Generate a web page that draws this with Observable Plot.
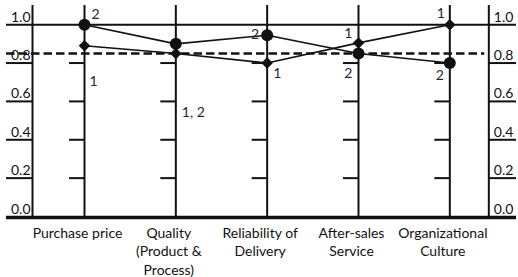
<!DOCTYPE html>
<html>
<head>
<meta charset="utf-8">
<script src="https://cdn.jsdelivr.net/npm/d3@7"></script>
<script src="https://cdn.jsdelivr.net/npm/@observablehq/plot@0.6"></script>
<style>
  html, body { margin: 0; padding: 0; background: #fff; }
  svg { display: block; }
</style>
</head>
<body>
<div id="chart"></div>
<script>
// ---- data ----
const categories = ["Purchase price", "Quality\n(Product &\nProcess)", "Reliability of\nDelivery", "After-sales\nService", "Organizational\nCulture"];
const series1 = [0.89, 0.85, 0.80, 0.905, 1.0];   // diamonds
const series2 = [1.0, 0.90, 0.945, 0.85, 0.80];   // circles
const threshold = 0.85;
const yTicks = [0, 0.2, 0.4, 0.6, 0.8, 1.0];
const yTickLabels = ["0.0", "0.2", "0.4", "0.6", "0.8", "1.0"];
const annotations = [
  {i: 0, series: 2, text: "2"},
  {i: 0, series: 1, text: "1"},
  {i: 1, series: 1, text: "1, 2"},
  {i: 2, series: 2, text: "2"},
  {i: 2, series: 1, text: "1"},
  {i: 3, series: 1, text: "1"},
  {i: 3, series: 2, text: "2"},
  {i: 4, series: 1, text: "1"},
  {i: 4, series: 2, text: "2"}
];
// label placement (styles), same order as annotations
const annoStyle = [
  {dx: 7, dy: -10, anchor: "start"},
  {dx: 5, dy: 36, anchor: "start"},
  {dx: 6, dy: 59, anchor: "start"},
  {dx: -8, dy: -1, anchor: "end"},
  {dx: 6, dy: 10, anchor: "start"},
  {dx: -6, dy: -9, anchor: "end"},
  {dx: -6, dy: 20, anchor: "end"},
  {dx: -5, dy: -11, anchor: "end"},
  {dx: -6, dy: 12, anchor: "end"}
];

// ---- layout ----
const W = 518, H = 277;
const mL = 6, mR = 2;
const ppu = 91.33;                 // pixels per category step
const xmin = -(84 - mL) / ppu;
const xmax = xmin + (W - mL - mR) / ppu;
const leftAxisX = xmin + 26 / ppu;
const rightAxisX = (categories.length - 1) + 39 / ppu;
const catTick = 15 / ppu;
const rightTickEnd = xmax;

const idx = categories.map((c, i) => i);
const s1 = idx.map(i => ({i, v: series1[i]}));
const s2 = idx.map(i => ({i, v: series2[i]}));
const catTicks = idx.flatMap(i => yTicks.filter(t => t > 0 && t < 1).map(t => ({i, t})));
const sideTicks = yTicks.filter(t => t > 0 && t < 1);
const annoData = annotations.map((a, k) => ({...a, v: (a.series === 1 ? series1 : series2)[a.i], ...annoStyle[k]}));

const ink = "#111";
const numColor = "#1c2745";
const font = "Lato, 'Open Sans', sans-serif";

const chart = Plot.plot({
  width: W, height: H,
  marginLeft: mL, marginRight: mR, marginTop: 5, marginBottom: 61,
  x: {domain: [xmin, xmax], axis: null},
  y: {domain: [0, 1.1], axis: null},
  style: {fontFamily: font, background: "white", overflow: "visible"},
  marks: [
    // category vertical axes
    Plot.ruleX(idx, {x: d => d, stroke: ink, strokeWidth: 2}),
    // left & right axes
    Plot.ruleX([leftAxisX, rightAxisX], {stroke: ink, strokeWidth: 2}),
    // category ticks
    Plot.ruleY(catTicks, {y: "t", x1: d => d.i - catTick, x2: d => d.i, stroke: ink, strokeWidth: 2}),
    // side ticks
    Plot.ruleY(sideTicks, {y: d => d, x1: xmin, x2: leftAxisX, stroke: ink, strokeWidth: 2}),
    Plot.ruleY(sideTicks, {y: d => d, x1: rightAxisX, x2: rightTickEnd, stroke: ink, strokeWidth: 2}),
    // 1.0 line and baseline
    Plot.ruleY([1], {stroke: ink, strokeWidth: 2}),
    Plot.ruleY([0], {stroke: ink, strokeWidth: 3.5, dy: 1}),
    // threshold dashed
    Plot.ruleY([threshold], {x1: xmin, x2: rightAxisX - 4 / ppu, stroke: ink, strokeWidth: 2.6, strokeDasharray: "8.5,4"}),
    // side tick labels
    Plot.text(yTicks, {x: leftAxisX, y: d => d, text: (d, k) => yTickLabels[k], textAnchor: "end", lineAnchor: "bottom", dx: -2, dy: -3, fontSize: 14, fill: ink}),
    Plot.text(yTicks, {x: rightAxisX, y: d => d, text: (d, k) => yTickLabels[k], textAnchor: "start", lineAnchor: "bottom", dx: 5, dy: -3, fontSize: 14, fill: ink}),
    // series lines
    Plot.line(s2, {x: "i", y: "v", stroke: ink, strokeWidth: 1.6}),
    Plot.line(s1, {x: "i", y: "v", stroke: ink, strokeWidth: 1.6}),
    Plot.dot(s2, {x: "i", y: "v", r: 6, fill: ink, stroke: "none"}),
    Plot.dot(s1, {x: "i", y: "v", r: 5.2, symbol: "diamond2", fill: ink, stroke: "none"}),
    // annotations (one mark each so each gets its own offset)
    ...annoData.map(d => Plot.text([d], {
      x: "i", y: "v", text: "text", dx: d.dx, dy: d.dy, textAnchor: d.anchor, fontSize: 14, fill: numColor
    })),
    // category labels
    Plot.text(idx, {x: d => d, y: 0, text: d => categories[d], textAnchor: "middle", lineAnchor: "top", dx: -7, dy: 8, fontSize: 14, lineHeight: 1.33, fill: ink})
  ]
});

document.getElementById("chart").appendChild(chart);
</script>
</body>
</html>
